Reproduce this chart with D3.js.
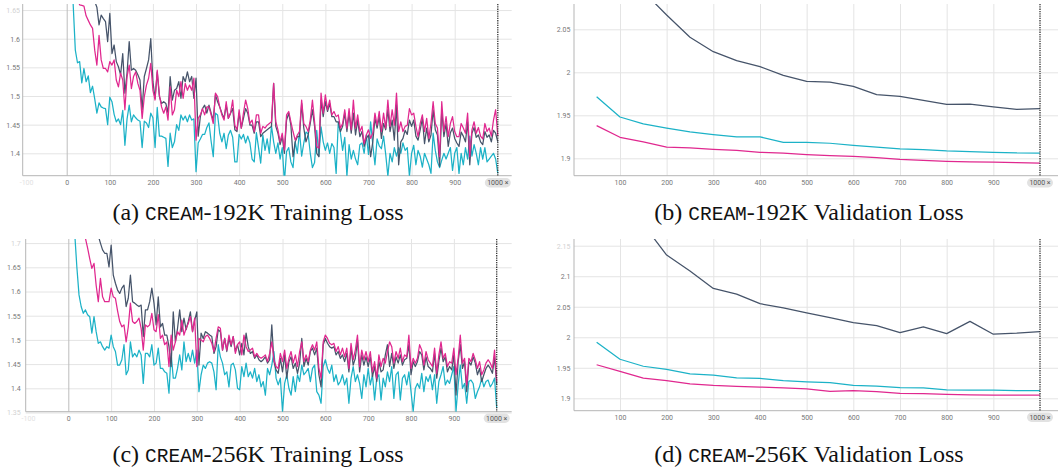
<!DOCTYPE html>
<html>
<head>
<meta charset="utf-8">
<script src="https://cdn.jsdelivr.net/npm/d3@7"></script>
<style>
  body { margin: 0; background: #fff; }
  svg { display: block; }
  .cap { font-family: "Liberation Serif", "Times New Roman", serif; font-size: 24px; fill: #111; }
  .mono { font-family: "Liberation Mono", "DejaVu Sans Mono", monospace; font-size: 19.5px; }
  .tick text { font-family: Roboto, "Noto Sans", sans-serif; font-size: 7px; fill: #777; }
</style>
</head>
<body>
<svg id="fig" width="1058" height="471"></svg>
<script>
// ---- data ----------------------------------------------------------------
// training loss is logged every 5 steps, validation loss every 50 steps
const trainSteps = d3.range(5, 1001, 5);
const valSteps = [50,100,150,200,250,300,350,400,450,500,550,600,650,700,750,800,850,900,950,1000];

// CREAM-192K training loss
const train192Cyan = [
1.80,1.72,1.66,1.58,1.558,1.56,1.523,1.548,1.525,1.535,
1.506,1.517,1.495,1.470,1.488,1.481,1.479,1.478,1.450,1.498,
1.490,1.468,1.455,1.460,1.450,1.475,1.414,1.460,1.484,1.455,
1.467,1.462,1.458,1.456,1.410,1.456,1.453,1.445,1.470,1.462,
1.410,1.480,1.430,1.430,1.428,1.426,1.377,1.435,1.410,1.420,
1.450,1.440,1.467,1.458,1.465,1.455,1.467,1.458,1.460,1.368,
1.418,1.425,1.433,1.433,1.445,1.453,1.421,1.394,1.470,1.467,
1.435,1.420,1.435,1.408,1.432,1.440,1.428,1.385,1.385,1.433,
1.425,1.433,1.418,1.430,1.418,1.390,1.385,1.436,1.410,1.383,
1.432,1.405,1.425,1.400,1.448,1.420,1.400,1.418,1.390,1.410,
1.350,1.403,1.410,1.385,1.375,1.420,1.400,1.438,1.395,1.418,
1.437,1.434,1.400,1.375,1.384,1.440,1.395,1.446,1.420,1.405,
1.418,1.400,1.417,1.410,1.365,1.455,1.435,1.405,1.428,1.360,
1.415,1.390,1.405,1.390,1.380,1.415,1.418,1.400,1.432,1.398,
1.455,1.415,1.380,1.425,1.413,1.408,1.430,1.398,1.360,1.400,
1.385,1.410,1.395,1.410,1.400,1.418,1.405,1.410,1.360,1.400,
1.414,1.380,1.405,1.395,1.376,1.400,1.390,1.380,1.365,1.435,
1.405,1.385,1.375,1.388,1.400,1.390,1.400,1.410,1.370,1.400,
1.410,1.365,1.400,1.380,1.410,1.390,1.430,1.395,1.415,1.400,
1.380,1.410,1.390,1.410,1.385,1.390,1.395,1.400,1.390,1.365];
const train192Magenta = [
1.78,1.74,1.71,1.69,1.67,1.659,1.658,1.657,1.640,1.632,
1.624,1.618,1.580,1.554,1.606,1.563,1.548,1.548,1.542,1.560,
1.554,1.563,1.528,1.516,1.540,1.528,1.476,1.534,1.554,1.513,
1.534,1.542,1.522,1.510,1.461,1.499,1.519,1.531,1.557,1.510,
1.493,1.545,1.502,1.481,1.470,1.481,1.458,1.516,1.467,1.476,
1.510,1.499,1.525,1.496,1.522,1.510,1.519,1.510,1.531,1.423,
1.461,1.467,1.478,1.467,1.481,1.481,1.467,1.452,1.505,1.499,
1.481,1.467,1.458,1.490,1.461,1.470,1.493,1.449,1.441,1.476,
1.444,1.470,1.493,1.478,1.452,1.458,1.438,1.467,1.467,1.435,
1.447,1.444,1.449,1.452,1.455,1.522,1.455,1.441,1.420,1.435,
1.406,1.467,1.473,1.455,1.438,1.423,1.432,1.438,1.493,1.452,
1.447,1.438,1.458,1.493,1.455,1.412,1.409,1.505,1.470,1.502,
1.476,1.493,1.467,1.473,1.464,1.467,1.444,1.452,1.476,1.444,
1.478,1.441,1.493,1.444,1.467,1.438,1.447,1.417,1.432,1.441,
1.426,1.435,1.470,1.449,1.473,1.438,1.470,1.444,1.493,1.447,
1.476,1.449,1.505,1.438,1.455,1.438,1.447,1.449,1.478,1.467,
1.470,1.447,1.429,1.452,1.467,1.438,1.461,1.426,1.452,1.490,
1.452,1.444,1.394,1.490,1.438,1.464,1.429,1.452,1.464,1.438,
1.429,1.429,1.452,1.444,1.435,1.470,1.394,1.441,1.455,1.435,
1.445,1.430,1.425,1.452,1.438,1.444,1.430,1.458,1.476,1.430];
const train192Dark = [
1.95,1.90,1.86,1.82,1.79,1.76,1.74,1.72,1.70,1.69,
1.68,1.675,1.665,1.655,1.624,1.641,1.635,1.630,1.595,1.644,
1.574,1.589,1.560,1.551,1.537,1.574,1.505,1.540,1.595,1.545,
1.548,1.545,1.537,1.528,1.476,1.534,1.548,1.563,1.600,1.525,
1.496,1.542,1.499,1.487,1.490,1.487,1.470,1.534,1.493,1.510,
1.513,1.525,1.496,1.534,1.525,1.542,1.525,1.534,1.496,1.531,
1.430,1.464,1.478,1.484,1.470,1.484,1.470,1.458,1.502,1.490,
1.481,1.470,1.461,1.484,1.461,1.470,1.478,1.441,1.438,1.470,
1.444,1.461,1.478,1.470,1.449,1.449,1.435,1.455,1.455,1.429,
1.435,1.438,1.441,1.444,1.447,1.522,1.447,1.435,1.415,1.429,
1.400,1.458,1.470,1.449,1.394,1.420,1.429,1.429,1.487,1.444,
1.420,1.432,1.452,1.476,1.447,1.400,1.394,1.493,1.464,1.490,
1.473,1.487,1.464,1.464,1.455,1.455,1.438,1.447,1.470,1.438,
1.470,1.435,1.470,1.432,1.458,1.429,1.438,1.412,1.426,1.432,
1.394,1.420,1.461,1.444,1.464,1.426,1.452,1.441,1.476,1.438,
1.458,1.423,1.485,1.380,1.420,1.426,1.440,1.433,1.458,1.447,
1.458,1.430,1.423,1.441,1.461,1.417,1.444,1.420,1.432,1.476,
1.441,1.432,1.377,1.476,1.429,1.452,1.412,1.436,1.444,1.426,
1.418,1.412,1.437,1.430,1.420,1.455,1.380,1.435,1.445,1.428,
1.432,1.420,1.415,1.438,1.428,1.432,1.420,1.440,1.435,1.420];

// CREAM-192K validation loss
const val192Cyan    = [1.9716,1.948,1.940,1.935,1.9306,1.9275,1.925,1.925,1.9186,1.9186,1.9175,1.915,1.913,1.911,1.910,1.9085,1.9077,1.907,1.9062,1.906];
const val192Magenta = [1.938,1.9244,1.919,1.913,1.912,1.9105,1.9093,1.907,1.906,1.9042,1.903,1.9023,1.9007,1.8988,1.8977,1.8965,1.8958,1.8955,1.895,1.8945];
const val192Dark    = [2.22,2.14,2.094,2.0666,2.0407,2.024,2.0135,2.0065,1.9965,1.9895,1.9887,1.9837,1.974,1.972,1.9674,1.9628,1.963,1.9597,1.957,1.9577];

// CREAM-256K training loss
const train256Cyan = [
1.85,1.78,1.72,1.65,1.593,1.569,1.555,1.562,1.552,1.548,
1.514,1.548,1.517,1.493,1.496,1.486,1.479,1.486,1.483,1.510,
1.486,1.476,1.448,1.448,1.459,1.490,1.428,1.438,1.496,1.465,
1.472,1.465,1.479,1.469,1.410,1.472,1.472,1.465,1.490,1.448,
1.452,1.483,1.441,1.441,1.434,1.431,1.390,1.472,1.421,1.421,
1.441,1.469,1.438,1.496,1.455,1.472,1.455,1.479,1.452,1.479,
1.393,1.428,1.448,1.441,1.452,1.455,1.452,1.434,1.397,1.490,
1.465,1.452,1.428,1.434,1.403,1.448,1.452,1.438,1.400,1.397,
1.445,1.424,1.452,1.424,1.434,1.421,1.441,1.414,1.428,1.403,
1.414,1.386,1.441,1.428,1.448,1.476,1.421,1.407,1.421,1.352,
1.410,1.428,1.400,1.386,1.424,1.393,1.428,1.414,1.448,1.428,
1.434,1.441,1.414,1.441,1.448,1.393,1.386,1.369,1.445,1.459,
1.441,1.431,1.448,1.414,1.428,1.407,1.414,1.428,1.407,1.421,
1.369,1.421,1.445,1.414,1.428,1.410,1.379,1.428,1.403,1.441,
1.407,1.428,1.376,1.421,1.428,1.376,1.421,1.403,1.434,1.414,
1.445,1.379,1.428,1.434,1.376,1.421,1.428,1.407,1.434,1.393,
1.352,1.400,1.410,1.400,1.431,1.393,1.424,1.414,1.428,1.397,
1.428,1.369,1.414,1.428,1.445,1.407,1.417,1.410,1.428,1.445,
1.352,1.407,1.448,1.400,1.410,1.369,1.414,1.417,1.410,1.379,
1.393,1.403,1.421,1.403,1.414,1.417,1.403,1.410,1.421,1.359];
const train256Magenta = [
1.95,1.90,1.85,1.81,1.78,1.75,1.73,1.71,1.690,1.668,
1.648,1.658,1.613,1.579,1.627,1.589,1.579,1.579,1.579,1.607,
1.589,1.586,1.560,1.538,1.527,1.531,1.496,1.527,1.576,1.538,
1.534,1.538,1.545,1.524,1.479,1.531,1.527,1.531,1.555,1.521,
1.517,1.552,1.503,1.510,1.490,1.496,1.445,1.510,1.479,1.496,
1.517,1.510,1.541,1.510,1.524,1.534,1.548,1.517,1.545,1.445,
1.503,1.500,1.496,1.507,1.510,1.503,1.493,1.476,1.503,1.527,
1.524,1.479,1.503,1.479,1.510,1.490,1.507,1.472,1.490,1.496,
1.469,1.510,1.486,1.476,1.479,1.483,1.465,1.472,1.465,1.462,
1.465,1.469,1.455,1.472,1.496,1.459,1.445,1.441,1.472,1.455,
1.479,1.441,1.462,1.476,1.452,1.469,1.445,1.476,1.496,1.455,
1.469,1.455,1.479,1.490,1.479,1.496,1.441,1.421,1.496,1.510,
1.503,1.493,1.490,1.493,1.476,1.486,1.469,1.483,1.465,1.483,
1.441,1.493,1.459,1.479,1.510,1.445,1.479,1.459,1.476,1.455,
1.476,1.434,1.455,1.421,1.469,1.445,1.462,1.452,1.476,1.496,
1.486,1.452,1.476,1.462,1.483,1.455,1.469,1.465,1.510,1.441,
1.462,1.452,1.462,1.490,1.479,1.448,1.476,1.459,1.452,1.445,
1.483,1.431,1.469,1.496,1.462,1.472,1.445,1.455,1.452,1.483,
1.428,1.462,1.510,1.452,1.462,1.407,1.462,1.455,1.472,1.459,
1.441,1.455,1.428,1.438,1.452,1.459,1.452,1.441,1.479,1.414];
const train256Dark = [
2.05,2.00,1.96,1.92,1.89,1.86,1.84,1.82,1.80,1.78,
1.76,1.745,1.73,1.715,1.70,1.686,1.679,1.679,1.651,1.696,
1.634,1.617,1.603,1.596,1.607,1.613,1.569,1.586,1.634,1.579,
1.576,1.572,1.569,1.572,1.507,1.562,1.562,1.579,1.607,1.576,
1.531,1.589,1.527,1.534,1.510,1.510,1.486,1.445,1.558,1.496,
1.524,1.562,1.517,1.545,1.521,1.538,1.558,1.517,1.541,1.558,
1.448,1.514,1.503,1.517,1.514,1.510,1.507,1.472,1.486,1.521,
1.517,1.479,1.503,1.476,1.503,1.486,1.507,1.476,1.490,1.469,
1.493,1.469,1.514,1.486,1.472,1.476,1.462,1.469,1.459,1.455,
1.459,1.465,1.452,1.459,1.531,1.455,1.438,1.431,1.462,1.434,
1.469,1.421,1.455,1.465,1.441,1.452,1.431,1.452,1.503,1.445,
1.462,1.448,1.476,1.483,1.469,1.483,1.428,1.403,1.490,1.503,
1.493,1.486,1.483,1.486,1.469,1.476,1.462,1.469,1.455,1.472,
1.434,1.483,1.448,1.462,1.500,1.434,1.469,1.448,1.465,1.445,
1.465,1.424,1.445,1.414,1.455,1.434,1.438,1.469,1.490,1.445,
1.472,1.441,1.465,1.452,1.469,1.448,1.459,1.462,1.490,1.428,
1.455,1.445,1.455,1.476,1.469,1.438,1.465,1.445,1.441,1.434,
1.472,1.421,1.455,1.483,1.455,1.465,1.434,1.445,1.438,1.469,
1.386,1.455,1.490,1.441,1.455,1.393,1.455,1.448,1.465,1.452,
1.428,1.441,1.414,1.428,1.441,1.448,1.441,1.431,1.465,1.407];

// CREAM-256K validation loss
const val256Cyan    = [1.9918,1.964,1.9525,1.9475,1.940,1.938,1.9335,1.9325,1.929,1.927,1.9255,1.921,1.920,1.9175,1.917,1.914,1.9135,1.9135,1.9125,1.9125];
const val256Magenta = [1.955,1.944,1.933,1.929,1.9235,1.921,1.9195,1.9185,1.917,1.9153,1.9115,1.9125,1.911,1.908,1.9077,1.9066,1.9055,1.905,1.905,1.905];
const val256Dark    = [2.35,2.25,2.185,2.1347,2.1087,2.080,2.0706,2.055,2.048,2.040,2.032,2.024,2.019,2.0077,2.017,2.006,2.026,2.005,2.0066,2.0093];

// axis ticks
const trainXTicks = [0,100,200,300,400,500,600,700,800,900];
const valXTicks = [100,200,300,400,500,600,700,800,900];
const yTicksA = [1.4,1.45,1.5,1.55,1.6,1.65];
const yTicksB = [1.9,1.95,2,2.05];
const yTicksC = [1.35,1.4,1.45,1.5,1.55,1.6,1.65,1.7];
const yTicksD = [1.9,1.95,2,2.05,2.1,2.15];

const captions = [
  { tag: "(a) ", name: "CREAM", rest: "-192K Training Loss" },
  { tag: "(b) ", name: "CREAM", rest: "-192K Validation Loss" },
  { tag: "(c) ", name: "CREAM", rest: "-256K Training Loss" },
  { tag: "(d) ", name: "CREAM", rest: "-256K Validation Loss" }
];

// ---- drawing ---------------------------------------------------------------
const COLORS = { cyan: "#1cb2c7", magenta: "#e0288f", dark: "#46546a" };
const svg = d3.select("#fig");

function panel(cfg, idx) {
  const g = svg.append("g");
  const x = d3.scaleLinear().domain([0, 1000]).range(cfg.xr);
  const y = d3.scaleLinear().domain(cfg.yd).range(cfg.yr);
  const L = cfg.box[0], T = cfg.box[1], R = cfg.box[2], B = cfg.box[3];

  const clipId = "clip" + idx;
  g.append("clipPath").attr("id", clipId)
    .append("rect").attr("x", L).attr("y", T).attr("width", R - L).attr("height", B - T);

  // horizontal grid + y labels
  const yAxis = d3.axisLeft(y).tickValues(cfg.yTicks).tickSize(-(R - L)).tickPadding(3)
    .tickFormat(d => String(d));
  const ya = g.append("g").attr("transform", `translate(${L},0)`).call(yAxis);
  ya.select(".domain").remove();
  ya.selectAll(".tick line").attr("stroke", "#e4e4e4").attr("stroke-width", 1);
  ya.selectAll(".tick text").attr("x", cfg.yLabelX - L).attr("dy", "0.34em")
    .style("fill", d => cfg.yFaded.includes(d) ? "#d2d2d2" : "#777");
  ya.selectAll(".tick").filter(d => y(d) < T - 1 || y(d) > B + 1).select("line").remove();

  // vertical grid + x labels
  const xAxis = d3.axisBottom(x).tickValues(cfg.xTicks).tickSize(-(B - T)).tickPadding(0)
    .tickFormat(d => String(d));
  const xa = g.append("g").attr("transform", `translate(0,${B})`).call(xAxis);
  xa.select(".domain").remove();
  xa.selectAll(".tick line").attr("stroke", d => d === 0 ? "#bdbdbd" : "#e4e4e4").attr("stroke-width", 1);
  xa.selectAll(".tick text").attr("y", cfg.xLabelY - B).attr("dy", "0.34em");

  if (cfg.leftFaded) {
    g.append("text").attr("x", x(-100) + 3).attr("y", cfg.xLabelY).attr("dy", "0.34em")
      .attr("text-anchor", "middle")
      .style("font-family", "Roboto, sans-serif").style("font-size", "7px").style("fill", "#e2e2e2")
      .text("-100");
  }

  // axis lines
  g.append("line").attr("x1", L).attr("x2", L).attr("y1", T).attr("y2", B)
    .attr("stroke", "#b5b5b5").attr("stroke-width", 1);
  g.append("line").attr("x1", L).attr("x2", R).attr("y1", B).attr("y2", B)
    .attr("stroke", "#b5b5b5").attr("stroke-width", 1);

  // series
  const plot = g.append("g").attr("clip-path", `url(#${clipId})`);
  const line = d3.line().x(d => x(d[0])).y(d => y(d[1]));
  cfg.series.forEach(s => {
    plot.append("path")
      .datum(cfg.steps.map((st, i) => [st, s.values[i]]))
      .attr("fill", "none").attr("stroke", s.color)
      .attr("stroke-width", 1.25).attr("stroke-linejoin", "round")
      .attr("d", line);
  });

  // current-step marker
  g.append("line").attr("x1", x(1000)).attr("x2", x(1000)).attr("y1", T).attr("y2", B)
    .attr("stroke", "#333").attr("stroke-width", 1.3).attr("stroke-dasharray", "1.3,1");

  // step chip
  const chip = g.append("g").attr("transform", `translate(${x(1000)},${cfg.xLabelY})`);
  chip.append("rect").attr("x", -13).attr("y", -4.7).attr("width", 26).attr("height", 9.4)
    .attr("rx", 4.7).attr("fill", "#e2e2e2");
  chip.append("text").attr("x", 0).attr("dy", "0.34em").attr("text-anchor", "middle")
    .style("font-family", "Roboto, sans-serif").style("font-size", "7px").style("fill", "#555")
    .text("1000 \u00d7");
}

const panels = [
  { xr: [66.7, 497.8], yd: [1.4, 1.6], yr: [153.3, 38.7], box: [22.7, 4, 511.7, 175.7],
    yTicks: yTicksA, yFaded: [1.65], yLabelX: 20, xTicks: trainXTicks, xLabelY: 182.7, leftFaded: true,
    steps: trainSteps,
    series: [ { values: train192Cyan, color: COLORS.cyan },
              { values: train192Dark, color: COLORS.dark },
              { values: train192Magenta, color: COLORS.magenta } ] },
  { xr: [573.3, 1040], yd: [1.9, 2.05], yr: [158.3, 29.3], box: [574, 4, 1058, 175.7],
    yTicks: yTicksB, yFaded: [], yLabelX: 570.5, xTicks: valXTicks, xLabelY: 182.7, leftFaded: false,
    steps: valSteps,
    series: [ { values: val192Cyan, color: COLORS.cyan },
              { values: val192Dark, color: COLORS.dark },
              { values: val192Magenta, color: COLORS.magenta } ] },
  { xr: [68.3, 496.7], yd: [1.4, 1.65], yr: [388.3, 267.3], box: [25.7, 239, 511.7, 411.7],
    yTicks: yTicksC, yFaded: [1.35, 1.7], yLabelX: 20.7, xTicks: trainXTicks, xLabelY: 418.3, leftFaded: true,
    steps: trainSteps,
    series: [ { values: train256Cyan, color: COLORS.cyan },
              { values: train256Dark, color: COLORS.dark },
              { values: train256Magenta, color: COLORS.magenta } ] },
  { xr: [573.3, 1040], yd: [1.9, 2.15], yr: [398.3, 245.7], box: [574, 239, 1058, 410.7],
    yTicks: yTicksD, yFaded: [2.15], yLabelX: 570.5, xTicks: valXTicks, xLabelY: 417.3, leftFaded: false,
    steps: valSteps,
    series: [ { values: val256Cyan, color: COLORS.cyan },
              { values: val256Dark, color: COLORS.dark },
              { values: val256Magenta, color: COLORS.magenta } ] }
];
panels.forEach(panel);

// captions under each panel
const capPos = [[258, 220], [809, 220], [258, 462], [809, 462]];
captions.forEach((c, i) => {
  const t = svg.append("text").attr("class", "cap")
    .attr("x", capPos[i][0]).attr("y", capPos[i][1]).attr("text-anchor", "middle");
  t.append("tspan").text(c.tag);
  t.append("tspan").attr("class", "mono").text(c.name);
  t.append("tspan").text(c.rest);
});
</script>
</body>
</html>
